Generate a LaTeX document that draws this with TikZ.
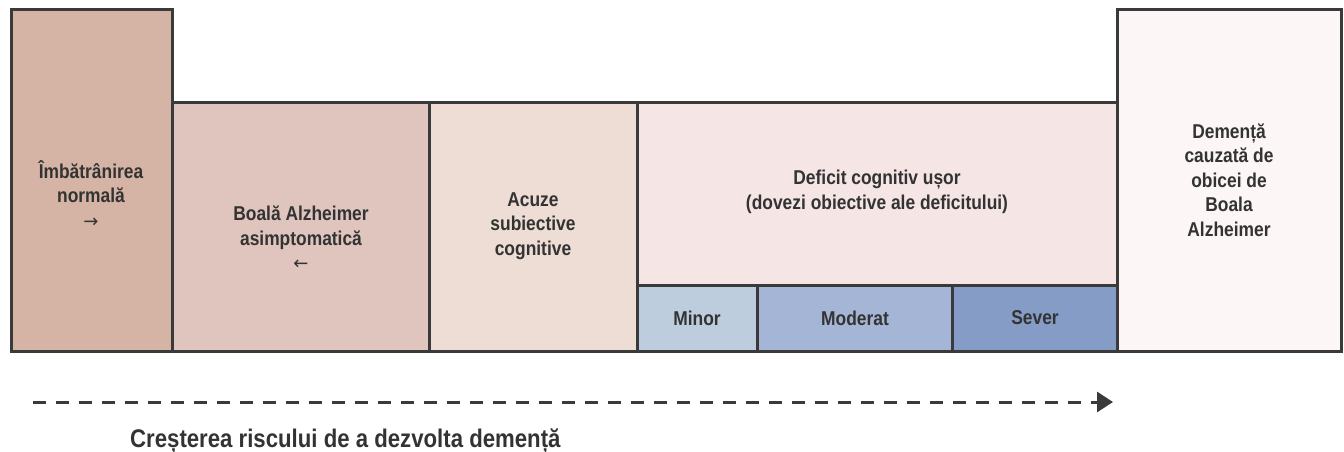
\documentclass[tikz,border=0pt]{standalone}
\usepackage{fontspec}
\setmainfont{Liberation Sans}[FakeStretch=0.87]
\newfontfamily\arrowfont{DejaVu Sans}
\usepackage{xcolor}
\usetikzlibrary{positioning, arrows.meta}

\definecolor{framegray}{HTML}{3A3A3A}
\definecolor{textgray}{HTML}{333333}
\definecolor{stageA}{HTML}{D5B4A6}
\definecolor{stageB}{HTML}{DFC5BD}
\definecolor{stageC}{HTML}{EDDDD5}
\definecolor{stageD}{HTML}{F5E5E5}
\definecolor{stageE}{HTML}{FCF6F6}
\definecolor{levelA}{HTML}{BDCDDD}
\definecolor{levelB}{HTML}{A5B5D5}
\definecolor{levelC}{HTML}{849CC6}

\begin{document}
\begin{tikzpicture}[
    x=1pt, y=-1pt,
    stage box/.style={draw=framegray, line width=3pt},
    stage label/.style={font=\bfseries\fontsize{20}{24.5}\selectfont, text=textgray, align=center, inner sep=0pt},
    risk label/.style={font=\bfseries\fontsize{25.5}{28}\selectfont, text=textgray, inner sep=0pt}
]

\useasboundingbox (0,0) rectangle (1344,452);

% --- 1. Stage boxes ---
\foreach \xa/\ya/\xb/\yb/\col in {
    11/10/172/351/stageA,
    172/102/429/351/stageB,
    429/102/637/351/stageC,
    637/102/1117/285/stageD,
    637/285/757/351/levelA,
    757/285/952/351/levelB,
    952/285/1117/351/levelC,
    1117/10/1341/351/stageE}{
    \filldraw[stage box, fill=\col] (\xa,\ya) rectangle (\xb,\yb);
}

% --- 2. Stage labels ---
\node[stage label] (normal) at (91,194) {Îmbătrânirea\\normală\\{\arrowfont\mdseries\fontsize{18}{24.5}\selectfont →}};
\node[stage label] (preclin) at (301,238) {Boală Alzheimer\\asimptomatică\\{\arrowfont\mdseries\fontsize{18}{24.5}\selectfont ←}};
\node[stage label] (subjective) at (533,226) {Acuze\\subiective\\cognitive};
\node[stage label] (mci) at (877,192) {Deficit cognitiv ușor\\(dovezi obiective ale deficitului)};
\node[stage label] (minor) at (697,318) {Minor};
\node[stage label] (moderate) at (855,318) {Moderat};
\node[stage label] (severe) at (1035,318) {Sever};
\node[stage label] (dementia) at (1229,180) {Demență\\cauzată de\\obicei de\\Boala\\Alzheimer};

% --- 3. Risk arrow ---
\coordinate (riskStart) at (33,402);
\coordinate (riskEnd) at (1113,402);
\draw[framegray, line width=3pt, dash pattern=on 13pt off 10pt,
      -{Triangle[length=16pt, width=20pt]}] (riskStart) -- (riskEnd);

\node[risk label, anchor=west] (risk) at (130,441) {Creșterea riscului de a dezvolta demență};

\end{tikzpicture}
\end{document}
